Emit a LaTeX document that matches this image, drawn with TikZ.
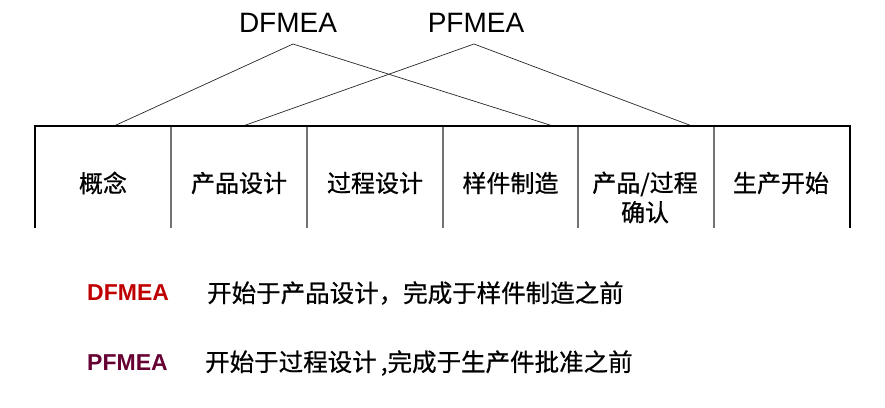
\documentclass[tikz,border=0pt]{standalone}
\usepackage{fontspec}
\setmainfont{Liberation Sans}
\newfontfamily\cjk[FakeBold=0.7]{Noto Sans CJK SC}
\usepackage{tikz}
\usetikzlibrary{positioning}
\definecolor{dfred}{RGB}{192,0,0}
\definecolor{pfplum}{RGB}{102,0,51}

\begin{document}
\begin{tikzpicture}[
  x=1pt, y=-1pt,
  bar/.style={line width=2.6pt, black},
  sep/.style={line width=1.1pt, black!55},
  lead/.style={line width=0.7pt, black!85},
  tag/.style={font=\fontsize{28}{30}\selectfont, inner sep=0pt},
  phase/.style={font=\cjk\fontsize{24}{29.5}\selectfont, align=center, inner sep=0pt},
  key/.style={font=\bfseries\fontsize{23}{26}\selectfont, anchor=west, inner sep=0pt},
  note/.style={font=\cjk\fontsize{24.5}{27}\selectfont, anchor=west, inner sep=0pt}]

\useasboundingbox (0,0) rectangle (885,407);

% ---- the two FMEA tags and their spans over the phases -------------------
\node[tag] (dtag) at (288,22.5) {DFMEA};
\node[tag] (ptag) at (476,22.5) {PFMEA};
\coordinate (dtop) at (293,44);
\coordinate (ptop) at (474,44);
\coordinate (dfrom) at (114,126);
\coordinate (dto)   at (553,126);
\coordinate (pfrom) at (243,126);
\coordinate (pto)   at (692,126);
\draw[lead] (dfrom)--(dtop)--(dto);
\draw[lead] (pfrom)--(ptop)--(pto);

% ---- the phase bar --------------------------------------------------------
\foreach \x in {171,307,443,578,714}
  \draw[sep] (\x,127)--(\x,228);
\draw[bar] (35,228)--(35,126)--(850,126)--(850,228);

\node[phase] (concept) at (103,183)   {概念};
\node[phase] (prod)    at (239,183)   {产品设计};
\node[phase] (proc)    at (375,183)   {过程设计};
\node[phase] (proto)   at (510.5,183) {样件制造};
\node[phase] (valid)   at (645,197.5) {产品/过程\\确认};
\node[phase] (launch)  at (781,183)   {生产开始};

% ---- what each one covers -------------------------------------------------
\node[key, text=dfred]  (dkey) at (87,293)  {DFMEA};
\node[note]             (dnote) at (207,293) {开始于产品设计，完成于样件制造之前};
\node[key, text=pfplum] (pkey) at (87,363)  {PFMEA};
\node[note]             (pnote) at (205,363) {开始于过程设计{\,},完成于生产件批准之前};

\end{tikzpicture}
\end{document}
